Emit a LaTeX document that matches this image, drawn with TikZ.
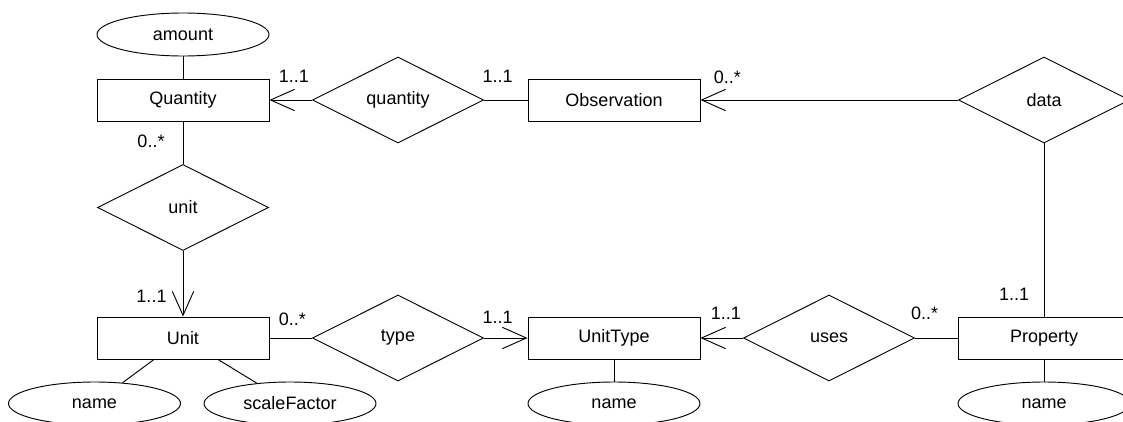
\documentclass[tikz,border=0pt]{standalone}
\usepackage{fontspec}
\setmainfont{Liberation Sans}
\usetikzlibrary{shapes.geometric,arrows.meta,calc}

\begin{document}
\begin{tikzpicture}[x=0.75pt,y=-0.75pt,line width=0.7pt,
 font=\fontsize{13.5}{16}\selectfont,
 ent/.style={draw,rectangle,minimum width=129pt,minimum height=31.5pt,inner sep=0pt},
 rel/.style={draw,diamond,aspect=2,minimum width=128.25pt,minimum height=64.5pt,inner sep=0pt},
 att/.style={draw,ellipse,minimum width=129pt,minimum height=32.25pt,inner sep=0pt},
 card/.style={anchor=base,inner sep=0pt},
 arr/.style={-{Straight Barb[length=18pt,width=16pt]}}]

\useasboundingbox (0,0) rectangle (1123,421);
\clip (0,0) rectangle (1123,421);

%entities
\node[ent] (qty) at (183,100) {Quantity};
\node[ent] (obs) at (614,100) {Observation};
\node[ent] (unit) at (183,338) {Unit};
\node[ent] (ut) at (614,338) {UnitType};
\node[ent] (prop) at (1044,338) {Property};

%relations
\node[rel] (qrel) at (398,100) {quantity};
\node[rel] (data) at (1044,100) {data};
\node[rel] (urel) at (183,207.5) {unit};
\node[rel] (trel) at (398,338) {type};
\node[rel] (uses) at (829,338) {uses};

%attributes
\node[att] (amount) at (183,34.5) {amount};
\node[att] (uname) at (94.5,403.5) {name};
\node[att] (scale) at (290,403.5) {scaleFactor};
\node[att] (utname) at (614,403.5) {name};
\node[att] (pname) at (1044,403.5) {name};

\draw (amount) -- (qty);
\draw (unit) -- (uname);
\draw (unit) -- (scale);
\draw (ut) -- (utname);
\draw (prop) -- (pname);

\draw[arr] (qrel) -- (qty);
\draw (qrel) -- (obs);
\draw[arr] (data) -- (obs);
\draw (data) -- (prop);
\draw (qty) -- (urel);
\draw[arr] (urel) -- (unit);
\draw (unit) -- (trel);
\draw[arr] (trel) -- (ut);
\draw[arr] (uses) -- (ut);
\draw (uses) -- (prop);

%cardinalities
\node[card] (c1) at ($(qty.east)+(24.5,-18)$) {1..1};
\node[card] (c2) at ($(obs.west)+(-30,-18)$) {1..1};
\node[card] (c3) at ($(obs.east)+(27,-17)$) {0..*};
\node[card] (c4) at ($(qty.south)+(-32,25.7)$) {0..*};
\node[card] (c5) at ($(unit.north)+(-31.5,-14)$) {1..1};
\node[card] (c6) at ($(unit.east)+(23,-13)$) {0..*};
\node[card] (c7) at ($(ut.west)+(-30,-15)$) {1..1};
\node[card] (c8) at ($(ut.east)+(25.5,-19)$) {1..1};
\node[card] (c9) at ($(prop.west)+(-33,-19)$) {0..*};
\node[card] (c10) at ($(prop.north)+(-30,-16)$) {1..1};

\end{tikzpicture}
\end{document}
